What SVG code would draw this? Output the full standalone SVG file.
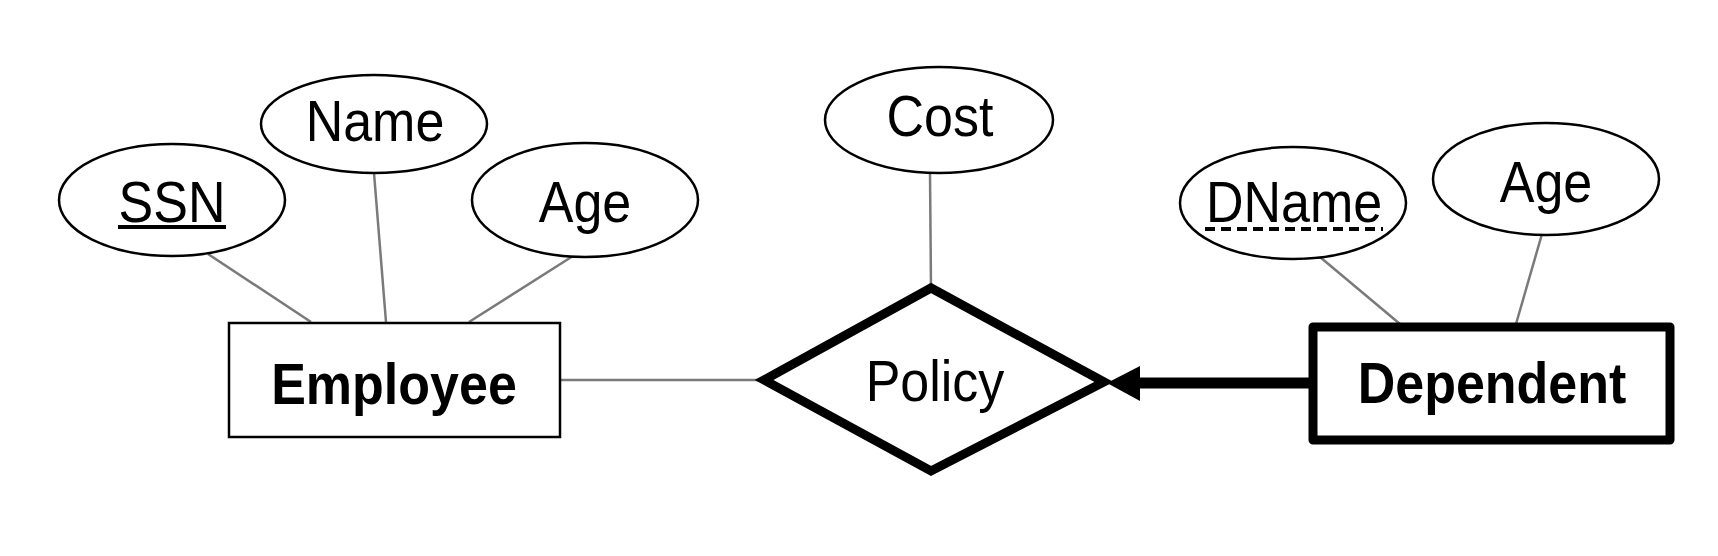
<svg xmlns="http://www.w3.org/2000/svg" width="1718" height="556" viewBox="0 0 1718 556">
<style>
.attr{fill:#fff;stroke:#000;stroke-width:2.5}
.lbl{font-family:"Liberation Sans",Arial,sans-serif;font-size:52px;fill:#000;text-anchor:middle}
.bold{font-weight:bold}
.conn{stroke:#7a7a7a;stroke-width:2.5;fill:none}
</style>
<rect width="1718" height="556" fill="#fff"/>
<g id="connectors">
<line class="conn" x1="208" y1="254" x2="311" y2="322"/>
<line class="conn" x1="374" y1="173" x2="386" y2="322"/>
<line class="conn" x1="573" y1="256" x2="469" y2="322"/>
<line class="conn" x1="560" y1="380" x2="764" y2="380"/>
<line class="conn" x1="930" y1="173" x2="931" y2="288"/>
<line class="conn" x1="1320" y1="257" x2="1400" y2="324"/>
<line class="conn" x1="1542" y1="234" x2="1516" y2="324"/>
<line x1="1310" y1="383" x2="1136" y2="383" stroke="#000" stroke-width="11"/>
<polygon points="1107,383 1140,366 1140,401" fill="#000"/>
</g>
<g id="ssn">
<ellipse class="attr" cx="172" cy="200" rx="113" ry="56"/>
<text class="lbl" transform="translate(172,222) scale(1,1.1)">SSN</text>
<line x1="118" y1="227" x2="226" y2="227" stroke="#000" stroke-width="4"/>
</g>
<g id="name">
<ellipse class="attr" cx="374" cy="124" rx="113" ry="49"/>
<text class="lbl" transform="translate(375,141) scale(1,1.1)">Name</text>
</g>
<g id="age1">
<ellipse class="attr" cx="585" cy="200" rx="113" ry="57"/>
<text class="lbl" transform="translate(585,222) scale(1,1.1)">Age</text>
</g>
<g id="employee">
<rect x="229" y="323" width="331" height="114" fill="#fff" stroke="#000" stroke-width="2.5"/>
<text class="lbl bold" transform="translate(394,404) scale(1,1.1)">Employee</text>
</g>
<g id="cost">
<ellipse class="attr" cx="939" cy="120" rx="114" ry="53"/>
<text class="lbl" transform="translate(940,136) scale(1,1.1)">Cost</text>
</g>
<g id="policy">
<polygon points="764,380 931,288 1104,382 931,471" fill="#fff" stroke="#000" stroke-width="9" stroke-linejoin="miter"/>
<text class="lbl" transform="translate(935,401) scale(1,1.1)">Policy</text>
</g>
<g id="dname">
<ellipse class="attr" cx="1293" cy="203" rx="113" ry="56"/>
<text class="lbl" transform="translate(1294,222) scale(1,1.1)">DName</text>
<line x1="1205" y1="229" x2="1383" y2="229" stroke="#000" stroke-width="4" stroke-dasharray="10,6"/>
</g>
<g id="age2">
<ellipse class="attr" cx="1546" cy="179" rx="113" ry="56"/>
<text class="lbl" transform="translate(1546,202) scale(1,1.1)">Age</text>
</g>
<g id="dependent">
<rect x="1313" y="327" width="357" height="113" fill="#fff" stroke="#000" stroke-width="9" stroke-linejoin="round"/>
<text class="lbl bold" transform="translate(1492,403) scale(1,1.1)">Dependent</text>
</g>
</svg>
